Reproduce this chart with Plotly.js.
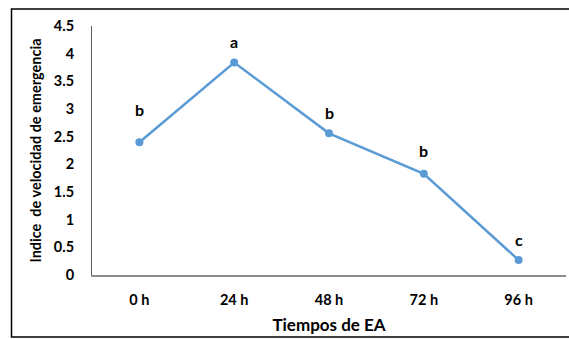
<!DOCTYPE html>
<html>
<head>
<meta charset="utf-8">
<script src="https://cdn.plot.ly/plotly-3.0.1.min.js"></script>
<style>
html,body{margin:0;padding:0;background:#fff;}
#chart{width:569px;height:339px;}
</style>
</head>
<body>
<div id="chart"></div>
<script>
const categories = ["0 h", "24 h", "48 h", "72 h", "96 h"];
const values = [2.40, 3.84, 2.56, 1.83, 0.27];
const letters = ["b", "a", "b", "b", "c"];
const letterShift = [33, 21, 21, 23, 21];

const FONT = "Lato, 'Liberation Sans', sans-serif";

const trace = {
  x: categories,
  y: values,
  type: "scatter",
  mode: "lines+markers",
  line: {color: "#5B9BD5", width: 2.5},
  marker: {color: "#5B9BD5", size: 8},
  hoverinfo: "skip"
};

const annotations = categories.map((c, i) => ({
  x: c, y: values[i], xref: "x", yref: "y",
  text: "<b>" + letters[i] + "</b>",
  showarrow: false,
  yshift: letterShift[i],
  font: {family: FONT, size: 16, color: "#000"}
}));

const layout = {
  width: 569, height: 339,
  margin: {l: 92, r: 3, t: 26, b: 64},
  paper_bgcolor: "#fff", plot_bgcolor: "#fff",
  showlegend: false,
  font: {family: FONT, color: "#000"},
  xaxis: {
    type: "category",
    showline: true, linecolor: "#8c8c8c", linewidth: 1.5,
    showgrid: false, zeroline: false, ticks: "",
    ticklabelstandoff: 11,
    tickfont: {family: FONT, size: 14.5, color: "#000", weight: "bold"},
    title: {text: "<b>Tiempos de EA</b>", font: {family: FONT, size: 17, color: "#000"}, standoff: 12},
    range: [-0.5, 4.5], fixedrange: true
  },
  yaxis: {
    range: [0, 4.5], dtick: 0.5,
    showline: true, linecolor: "#5a5a5a", linewidth: 1,
    showgrid: false, zeroline: false, ticks: "",
    ticklabelstandoff: 14,
    tickfont: {family: FONT, size: 14.5, color: "#000", weight: "bold"},
    title: {text: "<b>Indice  de velocidad de emergencia</b>", font: {family: FONT, size: 14.5, color: "#000"}, standoff: 8},
    fixedrange: true
  },
  annotations: annotations,
  shapes: [{
    type: "rect", xref: "paper", yref: "paper",
    x0: (11.5 - 92) / 474, x1: (575 - 92) / 474,
    y0: (275 - 337) / 249, y1: (275 - 9) / 249,
    line: {color: "#000", width: 1.5}, fillcolor: "rgba(0,0,0,0)", layer: "below"
  }]
};

Plotly.newPlot("chart", [trace], layout, {staticPlot: true, displayModeBar: false});
</script>
</body>
</html>
